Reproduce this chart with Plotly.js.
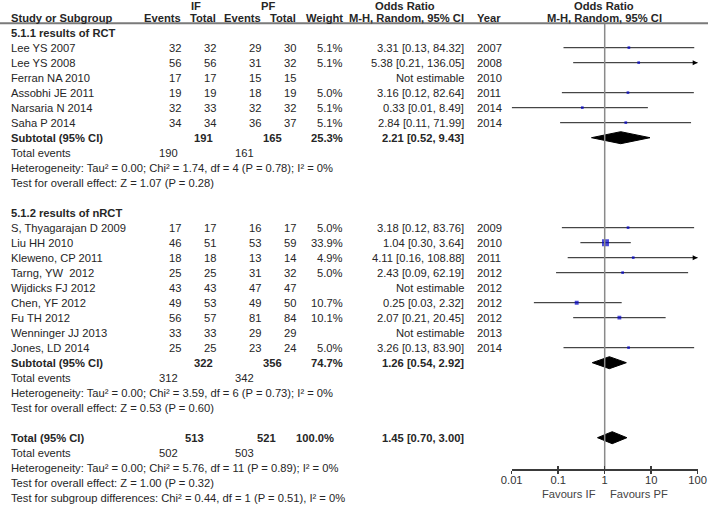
<!DOCTYPE html>
<html>
<head>
<meta charset="utf-8">
<script src="https://cdn.plot.ly/plotly-3.0.1.min.js"></script>
<style>html,body{margin:0;padding:0;background:#fff;}#chart{width:708px;height:506px;}</style>
</head>
<body>
<div id="chart"></div>
<script>
// ---------------- DATA ----------------
const rctNames    = ['Lee YS 2007','Lee YS 2008','Ferran NA 2010','Assobhi JE 2011','Narsaria N 2014','Saha P 2014'];
const rctIfEvents = [32, 56, 17, 19, 32, 34];
const rctIfTotal  = [32, 56, 17, 19, 33, 34];
const rctPfEvents = [29, 31, 15, 18, 32, 36];
const rctPfTotal  = [30, 32, 15, 19, 32, 37];
const rctWeight   = [5.1, 5.1, null, 5.0, 5.1, 5.1];
const rctOR       = [3.31, 5.38, null, 3.16, 0.33, 2.84];
const rctLow      = [0.13, 0.21, null, 0.12, 0.01, 0.11];
const rctHigh     = [84.32, 136.05, null, 82.64, 8.49, 71.99];
const rctYear     = [2007, 2008, 2010, 2011, 2014, 2014];

const nrctNames    = ['S, Thyagarajan D 2009','Liu HH 2010','Kleweno, CP 2011','Tarng, YW  2012','Wijdicks FJ 2012','Chen, YF 2012','Fu TH 2012','Wenninger JJ 2013','Jones, LD 2014'];
const nrctIfEvents = [17, 46, 18, 25, 43, 49, 56, 33, 25];
const nrctIfTotal  = [17, 51, 18, 25, 43, 53, 57, 33, 25];
const nrctPfEvents = [16, 53, 13, 31, 47, 49, 81, 29, 23];
const nrctPfTotal  = [17, 59, 14, 32, 47, 50, 84, 29, 24];
const nrctWeight   = [5.0, 33.9, 4.9, 5.0, null, 10.7, 10.1, null, 5.0];
const nrctOR       = [3.18, 1.04, 4.11, 2.43, null, 0.25, 2.07, null, 3.26];
const nrctLow      = [0.12, 0.30, 0.16, 0.09, null, 0.03, 0.21, null, 0.13];
const nrctHigh     = [83.76, 3.64, 108.88, 62.19, null, 2.32, 20.45, null, 83.90];
const nrctYear     = [2009, 2010, 2011, 2012, 2012, 2012, 2012, 2013, 2014];

const subLabels   = ['5.1.1 results of RCT', '5.1.2 results of nRCT'];
const subIfTotal  = [191, 322];
const subPfTotal  = [165, 356];
const subWeight   = [25.3, 74.7];
const subOR       = [2.21, 1.26];
const subLow      = [0.52, 0.54];
const subHigh     = [9.43, 2.92];
const subIfEvents = [190, 312];
const subPfEvents = [161, 342];
const subHet      = ['Tau\u00b2 = 0.00; Chi\u00b2 = 1.74, df = 4 (P = 0.78); I\u00b2 = 0%',
                     'Tau\u00b2 = 0.00; Chi\u00b2 = 3.59, df = 6 (P = 0.73); I\u00b2 = 0%'];
const subZ        = ['Z = 1.07 (P = 0.28)', 'Z = 0.53 (P = 0.60)'];

const totIfTotal = 513, totPfTotal = 521, totWeight = 100.0;
const totOR = 1.45, totLow = 0.70, totHigh = 3.00;
const totIfEvents = 502, totPfEvents = 503;
const totHet = 'Tau\u00b2 = 0.00; Chi\u00b2 = 5.76, df = 11 (P = 0.89); I\u00b2 = 0%';
const totZ = 'Z = 1.00 (P = 0.32)';
const subgroupDiff = 'Chi\u00b2 = 0.44, df = 1 (P = 0.51), I\u00b2 = 0%';

const axisTickVals = [0.01, 0.1, 1, 10, 100];
const axisTickText = ['0.01', '0.1', '1', '10', '100'];
const favoursLeft = 'Favours IF', favoursRight = 'Favours PF';

// ---------------- LAYOUT HELPERS ----------------
const W = 708, H = 506;
const ROW0 = 32.7, ROWH = 15;                 // pixel centre of row 0, row pitch
const rowAtPx = p => (p - ROW0) / ROWH;
const FONT = 'Liberation Sans, Arial, sans-serif';
const FS = 11.2;
const TXT = '#262626';
const COL = {name: 10, ifEv: 182, ifTot: 217, pfEv: 262, pfTot: 297, wt: 344, or: 465, year: 476,
             totEvIf: 179, totEvPf: 255, subIf: 214, subPf: 283, allIf: 205, allPf: 277, allWt: 335};
const AX_Y = 469.3, HEAD_LINE = 23.3;
const X0 = 511.7, X1 = 697.7;

const ann = [];
function txt(s, xpx, row, anchor, bold) {
  ann.push({xref: 'paper', yref: 'y', x: xpx / W, y: row, text: bold ? '<b>' + s + '</b>' : String(s),
            xanchor: anchor, yanchor: 'middle', showarrow: false, borderpad: 0,
            font: {family: FONT, size: FS, color: TXT}});
}
const fmtOR = (o, l, h) => o.toFixed(2) + ' [' + l.toFixed(2) + ', ' + h.toFixed(2) + ']';

// headers
const HR1 = rowAtPx(5.6), HR2 = rowAtPx(17.5);
txt('IF', 196, HR1, 'center', true);
txt('PF', 268, HR1, 'center', true);
txt('Odds Ratio', 405, HR1, 'center', true);
txt('Odds Ratio', 604, HR1, 'center', true);
txt('Study or Subgroup', COL.name, HR2, 'left', true);
txt('Events', COL.ifEv, HR2, 'right', true);
txt('Total', COL.ifTot, HR2, 'right', true);
txt('Events', COL.pfEv, HR2, 'right', true);
txt('Total', COL.pfTot, HR2, 'right', true);
txt('Weight', COL.wt, HR2, 'right', true);
txt('M-H, Random, 95% CI', COL.or, HR2, 'right', true);
txt('Year', COL.year, HR2, 'left', true);
txt('M-H, Random, 95% CI', 604, HR2, 'center', true);

const groups = [
  {names: rctNames, ie: rctIfEvents, it: rctIfTotal, pe: rctPfEvents, pt: rctPfTotal, w: rctWeight, o: rctOR, l: rctLow, h: rctHigh, y: rctYear},
  {names: nrctNames, ie: nrctIfEvents, it: nrctIfTotal, pe: nrctPfEvents, pt: nrctPfTotal, w: nrctWeight, o: nrctOR, l: nrctLow, h: nrctHigh, y: nrctYear}
];

const ciX = [], ciY = [], ptX = [], ptY = [], ptS = [], arX = [], arY = [];
const diamonds = [];
function addDiamond(o, l, h, row) {
  const d = 0.4;
  diamonds.push({x: [l, o, h, o, l], y: [row, row - d, row, row + d, row]});
}

let row = 0;
groups.forEach((g, gi) => {
  txt(subLabels[gi], COL.name, row, 'left', true);
  row++;
  g.names.forEach((n, i) => {
    txt(n, COL.name, row, 'left');
    txt(g.ie[i], COL.ifEv, row, 'right');
    txt(g.it[i], COL.ifTot, row, 'right');
    txt(g.pe[i], COL.pfEv, row, 'right');
    txt(g.pt[i], COL.pfTot, row, 'right');
    if (g.w[i] != null) txt(g.w[i].toFixed(1) + '%', COL.wt, row, 'right');
    txt(g.o[i] != null ? fmtOR(g.o[i], g.l[i], g.h[i]) : 'Not estimable', COL.or, row, 'right');
    txt(g.y[i], COL.year, row, 'left');
    if (g.o[i] != null) {
      const hi = Math.min(g.h[i], 100);
      ciX.push(g.l[i], hi, null); ciY.push(row, row, null);
      ptX.push(g.o[i]); ptY.push(row); ptS.push(1.2 * Math.sqrt(g.w[i]));
      if (g.h[i] > 100) { arX.push(100); arY.push(row); }
    }
    row++;
  });
  txt('Subtotal (95% CI)', COL.name, row, 'left', true);
  txt(subIfTotal[gi], COL.subIf, row, 'right', true);
  txt(subPfTotal[gi], COL.subPf, row, 'right', true);
  txt(subWeight[gi].toFixed(1) + '%', COL.wt, row, 'right', true);
  txt(fmtOR(subOR[gi], subLow[gi], subHigh[gi]), COL.or, row, 'right', true);
  addDiamond(subOR[gi], subLow[gi], subHigh[gi], row);
  row++;
  txt('Total events', COL.name, row, 'left');
  txt(subIfEvents[gi], COL.totEvIf, row, 'right');
  txt(subPfEvents[gi], COL.totEvPf, row, 'right');
  row++;
  txt('Heterogeneity: ' + subHet[gi], COL.name, row, 'left'); row++;
  txt('Test for overall effect: ' + subZ[gi], COL.name, row, 'left'); row++;
  row++;
});
txt('Total (95% CI)', COL.name, row, 'left', true);
txt(totIfTotal, COL.allIf, row, 'right', true);
txt(totPfTotal, COL.allPf, row, 'right', true);
txt(totWeight.toFixed(1) + '%', COL.allWt, row, 'right', true);
txt(fmtOR(totOR, totLow, totHigh), COL.or, row, 'right', true);
addDiamond(totOR, totLow, totHigh, row);
row++;
txt('Total events', COL.name, row, 'left');
txt(totIfEvents, COL.totEvIf, row, 'right');
txt(totPfEvents, COL.totEvPf, row, 'right');
row++;
txt('Heterogeneity: ' + totHet, COL.name, row, 'left'); row++;
txt('Test for overall effect: ' + totZ, COL.name, row, 'left'); row++;
txt('Test for subgroup differences: ' + subgroupDiff, COL.name, row, 'left'); row++;

// favours labels
ann.push({xref: 'paper', yref: 'paper', x: 597 / W, y: 1 - 493.5 / H, text: favoursLeft, xanchor: 'right', yanchor: 'middle',
          showarrow: false, borderpad: 0, font: {family: FONT, size: FS, color: '#444'}});
ann.push({xref: 'paper', yref: 'paper', x: 609 / W, y: 1 - 493.5 / H, text: favoursRight, xanchor: 'left', yanchor: 'middle',
          showarrow: false, borderpad: 0, font: {family: FONT, size: FS, color: '#444'}});

// ---------------- TRACES ----------------
const traces = [];
traces.push({x: [1, 1], y: [rowAtPx(HEAD_LINE), rowAtPx(AX_Y)], mode: 'lines', line: {color: '#8a8a8a', width: 1.5},
             hoverinfo: 'skip', cliponaxis: false, xaxis: 'x2'});
traces.push({x: ciX, y: ciY, mode: 'lines', line: {color: '#1a1a1a', width: 1}, hoverinfo: 'skip'});
traces.push({x: arX, y: arY, mode: 'markers', marker: {symbol: 'arrow-right', size: 5, color: '#000', line: {width: 0}},
             cliponaxis: false, hoverinfo: 'skip'});
traces.push({x: ptX, y: ptY, mode: 'markers', marker: {symbol: 'square', size: ptS, color: '#0000c8', line: {width: 0}},
             hoverinfo: 'skip'});
diamonds.forEach(d => traces.push({x: d.x, y: d.y, mode: 'lines', fill: 'toself', fillcolor: '#000',
             line: {color: '#000', width: 1}, hoverinfo: 'skip'}));

const axPos = 1 - AX_Y / H;
const layout = {
  width: W, height: H,
  margin: {l: 0, r: 0, t: 0, b: 0, pad: 0},
  paper_bgcolor: '#fff', plot_bgcolor: 'rgba(0,0,0,0)',
  showlegend: false,
  xaxis: {type: 'log', domain: [X0 / W, X1 / W], range: [-2, 2], anchor: 'free', position: axPos,
          showline: true, linecolor: '#3a3a3a', linewidth: 1.5, ticks: 'outside', ticklen: 3, tickwidth: 1.5, tickcolor: '#3a3a3a',
          tickvals: axisTickVals, ticktext: axisTickText, showgrid: false, zeroline: false, ticklabelstandoff: -3,
          tickfont: {family: FONT, size: FS, color: '#333'}, fixedrange: true},
  xaxis2: {type: 'log', overlaying: 'x', range: [-2, 2], anchor: 'free', position: axPos,
           showline: false, ticks: 'inside', ticklen: 3, tickwidth: 1.5, tickcolor: '#3a3a3a',
           tickvals: axisTickVals, showticklabels: false, showgrid: false, zeroline: false, fixedrange: true},
  yaxis: {domain: [0, 1], range: [rowAtPx(H), rowAtPx(0)], visible: false, showgrid: false, zeroline: false, fixedrange: true},
  shapes: [{type: 'line', xref: 'paper', yref: 'paper', x0: 0, x1: 1, y0: 1 - HEAD_LINE / H, y1: 1 - HEAD_LINE / H,
            line: {color: '#7a7a7a', width: 2}}],
  annotations: ann
};
Plotly.newPlot('chart', traces, layout, {staticPlot: true, displayModeBar: false});
</script>
</body>
</html>
